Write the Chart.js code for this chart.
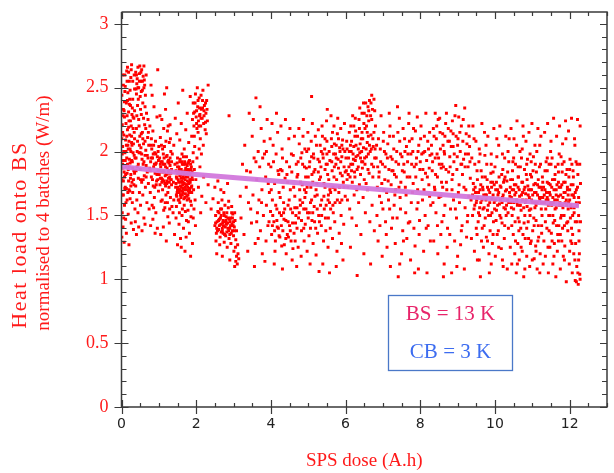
<!DOCTYPE html>
<html>
<head>
<meta charset="utf-8">
<script src="https://cdn.jsdelivr.net/npm/chart.js@4.4.1/dist/chart.umd.min.js"></script>
<style>
  html, body { margin: 0; padding: 0; background: #ffffff; }
  #wrap { width: 614px; height: 473px; }
</style>
</head>
<body>
<div id="wrap"><canvas id="chart" width="614" height="473"></canvas></div>
<script>
// Heat load measurements (W/m, normalised to 4 batches) against accumulated SPS dose (A.h),
// stored as flat [dose, load, dose, load, ...] lists, one list per dose period.
const fill0 = [
  0.01,1.33, 0.02,1.52, 0.01,1.78, 0.03,2.04, 0.02,2.21, 0.01,2.44, 0.03,2.6, 0.04,1.41, 0.05,1.66, 0.04,1.93,
  0.06,2.13, 0.05,2.33, 0.07,1.29, 0.08,1.58, 0.07,1.84, 0.09,1.99, 0.08,2.27, 0.1,2.51, 0.11,1.47, 0.1,1.72,
  0.12,1.88, 0.11,2.09, 0.13,2.38, 0.14,2.63, 0.13,1.36, 0.15,1.62, 0.14,1.95, 0.16,2.17, 0.17,2.46, 0.16,2.66,
  0.18,1.51, 0.19,1.77, 0.18,2.02, 0.2,2.24, 0.21,2.55, 0.2,1.27, 0.22,1.69, 0.23,1.91, 0.22,2.13, 0.24,2.36,
  0.25,2.58, 0.26,1.44, 0.25,1.82, 0.27,2.07, 0.28,2.29, 0.27,2.68, 0.29,1.6, 0.3,1.87, 0.31,2.18, 0.3,2.41,
  0.32,1.39, 0.33,1.74, 0.34,1.97, 0.33,2.26, 0.35,2.49, 0.36,1.55, 0.35,2.1, 0.02,1.66, 0.04,1.87, 0.06,2.0,
  0.09,1.71, 0.12,2.22, 0.15,1.83, 0.17,2.05, 0.19,2.31, 0.21,1.94, 0.23,1.63, 0.26,2.2, 0.28,1.76, 0.31,1.99,
  0.34,2.15, 0.06,1.48, 0.1,1.93, 0.14,2.12, 0.18,1.86, 0.22,2.41, 0.27,1.93, 0.32,2.06, 0.08,2.39, 0.13,1.71,
  0.2,2.08, 0.24,1.79, 0.29,2.34, 0.35,1.83, 0.03,1.9, 0.16,1.9, 0.25,2.0, 0.3,1.68, 0.12,2.0, 0.2,1.7,
  0.38,2.62, 0.4,2.45, 0.42,2.57, 0.44,2.66, 0.46,2.5, 0.48,2.61, 0.5,2.43, 0.52,2.55, 0.54,2.64, 0.56,2.48,
  0.58,2.59, 0.6,2.67, 0.62,2.52, 0.64,2.44, 0.66,2.6, 0.41,2.53, 0.45,2.41, 0.49,2.67, 0.53,2.47, 0.57,2.38,
  0.61,2.56, 0.43,2.36, 0.51,2.33, 0.63,2.35, 0.39,2.49,
  0.37,1.45, 0.38,1.73, 0.39,1.95, 0.4,2.18, 0.41,1.62, 0.42,1.88, 0.43,2.08, 0.44,1.52, 0.45,1.79, 0.46,2.25,
  0.47,1.99, 0.48,1.68, 0.49,2.12, 0.5,1.86, 0.51,1.58, 0.52,2.03, 0.53,2.29, 0.54,1.76, 0.55,1.94, 0.56,2.15,
  0.57,1.66, 0.58,1.9, 0.59,2.06, 0.6,1.48, 0.61,1.81, 0.62,2.21, 0.63,1.97, 0.64,1.72, 0.65,2.01, 0.66,1.89,
  0.67,2.3, 0.68,1.6, 0.69,1.84, 0.7,2.11, 0.71,1.95, 0.72,1.75, 0.73,2.05, 0.74,1.55, 0.75,1.87, 0.4,1.35,
  0.46,1.41, 0.55,1.38, 0.63,1.43, 0.5,1.99, 0.58,1.78,
  0.76,2.2, 0.77,1.68, 0.78,1.92, 0.79,2.52, 0.8,1.8, 0.81,2.02, 0.82,1.58, 0.83,1.95, 0.84,2.16, 0.85,1.73,
  0.86,1.88, 0.87,2.35, 0.88,1.64, 0.89,1.99, 0.9,1.83, 0.91,2.08, 0.92,1.52, 0.93,1.91, 0.94,1.77, 0.95,2.27,
  0.96,1.96, 0.97,2.64, 0.98,1.85, 0.99,1.69, 1.0,2.04, 0.78,1.42, 0.84,1.47, 0.9,1.36, 0.96,1.4, 0.82,2.44,
  0.88,1.9, 0.93,1.74, 0.8,2.1, 0.86,1.56, 0.99,1.93,
  0.02,1.98, 0.03,2.15, 0.05,1.77, 0.07,2.32, 0.09,2.47, 0.11,1.82, 0.13,2.05, 0.15,2.28, 0.17,1.68, 0.19,2.19,
  0.21,2.37, 0.23,2.02, 0.25,1.73, 0.27,2.12, 0.29,1.92, 0.31,2.27, 0.33,1.85, 0.35,2.32, 0.01,2.1, 0.04,2.28,
  0.08,1.8, 0.12,1.6, 0.16,2.4, 0.2,1.88, 0.24,2.24, 0.28,2.05, 0.32,1.78, 0.36,1.95, 0.05,2.52, 0.09,2.6,
  0.15,2.55, 0.19,2.62, 0.23,2.48, 0.26,2.64, 0.3,2.55, 0.34,2.6, 0.4,2.6, 0.44,2.5, 0.48,2.55, 0.52,2.62,
  0.56,2.55, 0.6,2.5, 0.39,1.85, 0.42,2.0, 0.45,1.9, 0.48,2.05, 0.51,1.78, 0.54,1.98, 0.57,2.1, 0.6,1.92,
  0.63,2.08, 0.66,1.8, 0.69,1.97, 0.72,2.15, 0.41,2.28, 0.47,2.2, 0.53,2.14, 0.59,2.26, 0.65,2.18, 0.71,2.25,
  0.77,1.85, 0.8,1.95, 0.83,1.78, 0.86,2.05, 0.89,1.72, 0.92,1.98, 0.95,1.82, 0.98,2.0, 0.79,2.05, 0.85,1.98,
  0.91,1.9, 0.97,1.78
];
const fill1 = [
  1.01,1.82, 1.02,1.95, 1.03,1.74, 1.04,2.11, 1.05,1.88, 1.06,1.61, 1.07,1.79, 1.08,2.25, 1.09,1.92, 1.1,1.7,
  1.11,1.85, 1.12,1.98, 1.13,1.54, 1.14,1.77, 1.15,2.04, 1.16,1.9, 1.17,1.81, 1.18,2.33, 1.19,1.66, 1.2,1.96,
  1.21,1.75, 1.22,1.87, 1.23,2.16, 1.24,1.49, 1.25,1.83, 1.26,1.93, 1.27,1.72, 1.28,2.07, 1.29,1.8, 1.3,1.89,
  1.31,1.64, 1.32,2.0, 1.33,1.78, 1.34,1.86, 1.35,1.57, 1.05,1.35, 1.12,1.41, 1.2,1.3, 1.28,1.44, 1.15,2.45,
  1.08,1.76, 1.14,1.84, 1.22,1.97, 1.26,1.79, 1.32,1.83, 1.04,1.9, 1.18,1.73, 1.1,2.02, 1.3,2.21, 1.24,1.68,
  1.03,2.28, 1.16,1.56, 1.27,1.91, 1.34,1.74, 1.21,2.5,
  1.45,1.72, 1.46,1.85, 1.47,1.66, 1.48,1.79, 1.49,1.91, 1.5,1.7, 1.51,1.83, 1.52,1.62, 1.53,1.76, 1.54,1.88,
  1.55,1.68, 1.56,1.81, 1.57,1.94, 1.58,1.73, 1.59,1.64, 1.6,1.86, 1.61,1.77, 1.62,1.69, 1.63,1.9, 1.64,1.8,
  1.65,1.71, 1.66,1.84, 1.67,1.63, 1.68,1.75, 1.69,1.92, 1.7,1.78, 1.71,1.67, 1.72,1.87, 1.73,1.74, 1.74,1.82,
  1.75,1.65, 1.76,1.89, 1.77,1.72, 1.78,1.8, 1.79,1.69, 1.8,1.85, 1.81,1.76, 1.82,1.93, 1.83,1.7, 1.84,1.83,
  1.85,1.61, 1.86,1.78, 1.87,1.88, 1.88,1.73, 1.89,1.8, 1.5,1.95, 1.56,1.6, 1.62,1.98, 1.68,1.58, 1.74,1.96,
  1.8,1.63, 1.86,1.68, 1.58,1.82, 1.64,1.74, 1.7,1.85, 1.76,1.77, 1.82,1.71, 1.53,1.84, 1.66,1.79, 1.78,1.91,
  1.38,1.52, 1.4,2.05, 1.42,1.35, 1.44,2.26, 1.46,1.48, 1.48,2.14, 1.5,1.27, 1.52,2.38, 1.54,1.43, 1.56,2.09,
  1.58,1.32, 1.6,2.22, 1.62,1.5, 1.64,2.48, 1.66,1.4, 1.68,2.02, 1.7,1.22, 1.72,2.17, 1.74,1.46, 1.76,2.3,
  1.78,1.54, 1.8,2.07, 1.82,1.36, 1.84,2.43, 1.86,1.49, 1.88,2.12, 1.9,1.28, 1.92,1.99, 1.94,1.55, 1.96,2.04,
  1.98,1.42, 1.4,1.62, 1.43,1.9, 1.47,1.57, 1.55,1.52, 1.63,1.55, 1.71,1.53, 1.79,1.45, 1.87,1.58, 1.93,1.7,
  1.95,1.86, 1.97,1.62, 1.99,1.78, 1.91,1.92, 1.6,1.25, 1.85,1.18, 1.73,1.33, 1.36,1.98, 1.39,1.76, 1.92,1.48,
  1.9,2.25, 1.92,2.38, 1.94,2.2, 1.96,2.31, 1.98,2.45, 2.0,2.27, 2.02,2.18, 2.04,2.35, 2.06,2.24, 2.08,2.42,
  2.1,2.29, 2.12,2.2, 2.14,2.33, 2.16,2.26, 2.18,2.48, 2.2,2.22, 2.22,2.36, 2.24,2.17, 2.26,2.3, 2.28,2.4,
  2.3,2.24, 2.32,2.52, 1.95,2.12, 2.01,2.32, 2.05,2.15, 2.09,2.28, 2.13,2.44, 2.17,2.34, 2.21,2.28, 2.25,2.23,
  2.29,2.33, 2.03,2.5, 2.11,2.1, 2.19,2.05, 2.27,2.14,
  2.02,1.95, 2.06,1.72, 2.1,1.88, 2.15,1.65, 2.2,1.8, 2.26,1.6, 2.32,1.74, 2.12,1.52, 2.08,2.02, 2.14,1.98,
  1.02,1.85, 1.04,1.79, 1.06,1.92, 1.08,1.84, 1.1,1.78, 1.12,1.9, 1.14,1.95, 1.16,1.75, 1.18,1.88, 1.2,1.82,
  1.22,1.77, 1.24,1.92, 1.26,1.85, 1.28,1.76, 1.3,1.95, 1.32,1.78, 1.34,1.92, 1.07,2.05, 1.13,2.18, 1.19,2.08,
  1.25,2.2, 1.31,2.1, 1.09,1.62, 1.17,1.6, 1.23,1.6, 1.29,1.55,
  1.46,1.75, 1.48,1.65, 1.5,1.88, 1.52,1.78, 1.54,1.7, 1.56,1.92, 1.58,1.66, 1.6,1.79, 1.62,1.84, 1.64,1.68,
  1.66,1.9, 1.68,1.82, 1.7,1.72, 1.72,1.8, 1.74,1.7, 1.76,1.84, 1.78,1.66, 1.8,1.75, 1.82,1.82, 1.84,1.76,
  1.86,1.86, 1.88,1.68, 1.9,1.78, 1.47,1.8, 1.51,1.72, 1.55,1.86, 1.59,1.76, 1.63,1.66, 1.67,1.82, 1.71,1.9,
  1.75,1.74, 1.79,1.86, 1.83,1.78, 1.87,1.72, 1.49,1.68, 1.57,1.7, 1.61,1.92, 1.65,1.76, 1.69,1.7, 1.73,1.86,
  1.77,1.82, 1.81,1.68, 1.85,1.9, 1.89,1.84, 1.6,1.72, 1.7,1.64, 1.8,1.92, 1.66,1.96, 1.76,1.62, 1.54,1.62,
  1.93,2.3, 1.97,2.38, 2.01,2.22, 2.05,2.4, 2.09,2.34, 2.13,2.26, 2.17,2.4, 2.21,2.32, 2.25,2.38, 2.07,2.2
];
const fill2 = [
  2.5,1.42, 2.52,1.5, 2.54,1.36, 2.56,1.45, 2.58,1.53, 2.6,1.39, 2.62,1.47, 2.64,1.33, 2.66,1.43, 2.68,1.55,
  2.7,1.38, 2.72,1.46, 2.74,1.52, 2.76,1.35, 2.78,1.41, 2.8,1.49, 2.82,1.37, 2.84,1.44, 2.86,1.56, 2.88,1.32,
  2.9,1.4, 2.92,1.48, 2.94,1.36, 2.96,1.43, 2.98,1.51, 3.0,1.34, 3.02,1.41, 3.04,1.46, 3.06,1.31, 3.08,1.38,
  2.55,1.4, 2.61,1.52, 2.67,1.37, 2.73,1.42, 2.79,1.34, 2.85,1.4, 2.91,1.45, 2.97,1.38, 3.03,1.52, 2.59,1.6,
  2.69,1.62, 2.77,1.58, 2.87,1.61, 2.95,1.57, 2.53,1.3, 2.63,1.27, 2.75,1.29, 2.83,1.25, 2.93,1.28, 3.01,1.22,
  2.71,1.44, 2.81,1.43, 2.65,1.48, 2.89,1.47, 2.99,1.42,
  3.05,1.25, 3.08,1.18, 3.1,1.12, 3.12,1.2, 3.06,1.14, 3.14,1.16, 3.03,1.1, 3.11,1.27,
  2.45,1.63, 2.5,1.72, 2.58,1.77, 2.66,1.7, 2.74,1.68, 2.84,1.75, 2.88,2.28, 2.55,1.2, 2.7,1.18, 2.9,1.15,
  2.4,1.55, 3.18,1.65,
  3.2,1.48, 3.24,1.9, 3.28,1.35, 3.3,2.05, 3.34,1.72, 3.38,1.22, 3.4,1.6, 3.42,2.3, 3.45,1.84, 3.48,1.44,
  3.5,2.12, 3.52,1.66, 3.55,1.95, 3.58,1.28, 3.6,2.42, 3.62,1.78, 3.64,1.52, 3.66,2.0, 3.68,1.62, 3.7,1.88,
  3.72,1.38, 3.74,2.18, 3.76,1.7, 3.78,1.95, 3.8,1.5, 3.82,2.08, 3.84,1.14, 3.86,1.8, 3.88,1.58, 3.9,2.25,
  3.92,1.42, 3.94,1.9, 3.96,1.68, 3.98,2.1, 3.56,1.1, 3.66,1.32, 3.77,1.2, 3.87,1.3, 3.53,2.25, 3.71,2.35,
  3.83,1.98, 3.93,1.75, 3.46,1.55, 3.62,1.45, 3.99,1.53,
  2.52,1.44, 2.57,1.38, 2.62,1.42, 2.67,1.5, 2.72,1.36, 2.77,1.45, 2.82,1.52, 2.87,1.38, 2.92,1.42, 2.97,1.48,
  3.02,1.38, 2.6,1.46, 2.7,1.4, 2.8,1.46, 2.9,1.35, 3.0,1.45, 2.65,1.55, 2.75,1.5, 2.85,1.48, 2.95,1.52,
  3.35,1.85, 3.6,1.92, 3.75,1.6, 3.88,2.0, 3.95,1.45
];
const fill3 = [
  4.0,1.88, 4.02,1.35, 4.04,1.62, 4.06,2.05, 4.08,1.45, 4.1,1.75, 4.12,1.3, 4.14,1.98, 4.16,1.55, 4.18,2.15,
  4.2,1.4, 4.22,1.68, 4.24,1.33, 4.26,1.86, 4.28,1.5, 4.3,2.02, 4.32,1.38, 4.34,1.6, 4.36,1.27, 4.38,1.79,
  4.4,1.46, 4.42,1.92, 4.44,1.35, 4.46,1.58, 4.48,2.1, 4.5,1.42, 4.52,1.7, 4.54,1.3, 4.56,1.84, 4.58,1.52,
  4.6,1.97, 4.62,1.36, 4.64,1.65, 4.66,1.44, 4.68,1.9, 4.7,1.56, 4.05,1.5, 4.11,1.22, 4.17,1.41, 4.23,1.52,
  4.29,1.26, 4.35,1.47, 4.41,1.2, 4.47,1.33, 4.53,1.55, 4.59,1.24, 4.65,1.3, 4.03,2.22, 4.15,2.3, 4.27,2.2,
  4.39,2.25, 4.51,2.18, 4.63,2.12, 4.09,1.12, 4.31,1.08, 4.57,1.15, 4.69,1.1, 4.21,1.82, 4.45,1.76, 4.33,1.72,
  4.72,1.82, 4.74,1.48, 4.76,2.06, 4.78,1.62, 4.8,1.95, 4.82,1.38, 4.84,1.74, 4.86,2.12, 4.88,1.55, 4.9,1.88,
  4.92,1.43, 4.94,1.68, 4.96,2.0, 4.98,1.52, 5.0,1.8, 5.02,1.34, 5.04,1.92, 5.06,1.6, 5.08,2.08, 5.09,2.43,
  5.1,1.46, 5.12,1.76, 5.14,1.98, 5.16,1.57, 5.18,1.86, 5.2,1.4, 5.22,2.05, 5.24,1.66, 5.26,1.94, 5.28,1.5,
  5.3,1.78, 4.73,1.25, 4.81,1.18, 4.89,1.3, 4.97,1.22, 5.05,1.12, 5.13,1.28, 5.21,1.19, 5.29,1.06, 4.77,1.7,
  4.85,1.9, 4.93,1.8, 5.01,2.02, 5.07,1.72, 5.15,1.84, 5.23,1.75, 4.75,2.18, 4.87,2.25, 4.99,2.15, 5.11,2.22,
  5.19,2.12, 5.27,2.17, 4.79,1.58, 4.91,1.64, 5.03,1.52, 5.17,1.45, 5.25,1.36, 4.83,1.99, 4.95,1.87, 5.09,1.96,
  5.32,2.05, 5.34,1.88, 5.36,1.62, 5.38,2.12, 5.4,1.95, 5.42,1.75, 5.44,2.02, 5.46,1.48, 5.48,1.9, 5.5,2.08,
  5.51,2.33, 5.52,1.82, 5.54,1.66, 5.56,2.0, 5.58,1.93, 5.6,1.55, 5.62,2.1, 5.64,1.85, 5.66,1.72, 5.68,1.98,
  5.7,2.06, 5.72,1.6, 5.74,1.9, 5.76,1.78, 5.78,2.14, 5.8,1.94, 5.82,1.68, 5.84,2.03, 5.86,1.83, 5.88,1.5,
  5.9,1.96, 5.92,2.09, 5.94,1.76, 5.96,1.88, 5.98,2.0, 5.35,1.42, 5.41,1.3, 5.47,1.38, 5.53,1.25, 5.59,1.4,
  5.65,1.32, 5.71,1.45, 5.77,1.22, 5.83,1.36, 5.89,1.28, 5.95,1.43, 5.39,1.12, 5.57,1.05, 5.75,1.1, 5.93,1.15,
  5.33,1.8, 5.45,1.86, 5.55,1.78, 5.63,1.92, 5.73,1.98, 5.81,1.87, 5.91,1.81, 5.37,2.2, 5.49,2.24, 5.61,2.28,
  5.69,2.2, 5.79,2.26, 5.87,2.18, 5.97,2.22, 5.43,1.55, 5.53,1.62, 5.67,1.52, 5.85,1.6, 5.99,1.65, 5.58,1.7,
  4.01,1.7, 4.07,1.92, 4.13,1.58, 4.19,1.85, 4.25,1.64, 4.31,1.95, 4.37,1.55, 4.43,1.82, 4.49,1.62, 4.55,1.98,
  4.61,1.72, 4.67,1.5, 4.73,1.92, 4.79,1.76, 4.85,1.6, 4.91,2.02, 4.97,1.72, 5.03,1.88, 5.09,1.62, 5.15,1.95,
  5.21,1.7, 5.27,1.84, 5.33,1.58, 5.39,1.98, 5.45,1.72, 5.51,1.9, 5.57,1.6, 5.63,2.04, 5.69,1.8, 5.75,1.95,
  5.81,2.1, 5.87,1.92, 5.93,2.02, 5.99,1.84, 4.04,1.42, 4.1,1.38, 4.16,1.46, 4.22,1.34, 4.28,1.42, 4.34,1.52,
  4.4,1.32, 4.46,1.45, 4.52,1.38, 4.58,1.44, 4.64,1.56, 4.7,1.4, 4.76,1.52, 4.82,1.46, 4.88,1.4, 4.94,1.55,
  5.0,1.48, 5.06,1.4, 5.12,1.52, 5.18,1.65, 5.24,1.55, 5.3,1.45, 5.36,1.5, 5.42,1.65, 5.48,1.58, 5.54,1.48,
  5.6,1.68, 5.66,1.58, 5.72,1.7, 5.78,1.62, 5.84,1.72, 5.9,1.62, 5.96,1.72, 4.3,1.85, 4.5,1.88, 4.7,1.8,
  4.9,1.7, 5.1,1.82, 5.3,1.92, 5.5,1.98, 5.7,1.88, 5.9,2.05, 5.35,2.0, 5.65,2.15, 5.85,2.0, 5.45,2.1, 5.75,2.05
];
const fill4 = [
  6.02,1.85, 6.04,2.02, 6.06,1.72, 6.08,1.95, 6.1,2.15, 6.12,1.8, 6.14,1.9, 6.16,2.08, 6.18,1.76, 6.2,1.98,
  6.22,2.2, 6.24,1.84, 6.26,1.93, 6.28,2.05, 6.3,1.7, 6.32,2.12, 6.34,1.88, 6.36,2.25, 6.38,1.99, 6.4,1.82,
  6.42,2.1, 6.44,2.3, 6.46,1.92, 6.48,2.03, 6.5,1.78, 6.52,2.18, 6.54,2.38, 6.56,1.96, 6.58,2.07, 6.6,1.86,
  6.62,2.24, 6.64,2.4, 6.66,2.0, 6.68,2.13, 6.7,1.9, 6.72,2.33, 6.74,2.04, 6.76,2.41, 6.78,1.95, 6.8,2.2,
  6.05,1.62, 6.11,1.55, 6.17,1.48, 6.23,1.66, 6.29,1.42, 6.35,1.6, 6.41,1.35, 6.47,1.64, 6.53,1.52, 6.59,1.7,
  6.65,1.45, 6.71,1.58, 6.77,1.38, 6.03,2.08, 6.09,1.88, 6.15,2.0, 6.21,1.94, 6.27,2.16, 6.33,1.97, 6.39,2.06,
  6.45,1.87, 6.51,1.95, 6.57,2.28, 6.63,1.83, 6.69,2.02, 6.75,1.88, 6.13,1.25, 6.31,1.03, 6.49,1.2, 6.67,1.12,
  6.6,2.35, 6.7,2.44, 6.5,2.3, 6.19,2.28, 6.25,1.8, 6.37,1.74, 6.43,2.0, 6.55,1.75, 6.61,1.98, 6.73,1.8,
  6.82,1.95, 6.85,1.72, 6.88,2.1, 6.9,1.84, 6.93,2.02, 6.96,1.6, 6.99,1.9, 7.02,2.15, 7.05,1.78, 7.08,1.98,
  7.1,1.68, 7.13,2.06, 7.16,1.86, 7.19,2.2, 7.22,1.74, 7.25,1.94, 7.28,2.12, 7.31,1.82, 7.34,1.7, 7.37,2.0,
  7.39,2.35, 7.42,1.9, 7.45,2.08, 7.48,1.76, 7.51,1.96, 7.54,2.18, 7.57,1.84, 7.6,1.72, 7.63,2.04, 7.66,1.92,
  7.69,2.22, 7.72,1.8, 7.75,1.98, 7.78,2.1, 7.81,1.75, 7.84,1.88, 7.87,2.16, 7.9,1.95, 7.93,1.7, 7.96,2.05,
  7.99,1.86, 8.02,2.2, 8.05,1.78, 8.08,1.99, 8.11,2.12, 8.14,1.83, 8.17,1.93, 8.2,2.08, 8.23,1.74, 8.26,1.97,
  6.84,1.5, 6.92,1.42, 7.0,1.55, 7.07,1.45, 7.15,1.62, 7.23,1.4, 7.3,1.58, 7.38,1.48, 7.46,1.64, 7.53,1.38,
  7.61,1.52, 7.68,1.44, 7.76,1.6, 7.83,1.4, 7.91,1.55, 7.98,1.46, 8.06,1.62, 8.13,1.5, 8.21,1.42, 8.28,1.58,
  6.87,1.3, 6.98,1.18, 7.11,1.25, 7.2,1.1, 7.33,1.28, 7.41,1.02, 7.5,1.2, 7.64,1.32, 7.74,1.15, 7.86,1.26,
  7.95,1.08, 8.09,1.22, 8.18,1.05, 8.27,1.3, 6.95,2.28, 7.17,2.3, 7.44,2.26, 7.7,2.3, 7.92,2.27, 8.15,2.3,
  6.86,1.88, 7.04,2.0, 7.27,1.85, 7.56,1.9, 7.8,2.0, 8.0,1.92, 8.24,1.87, 7.14,1.77, 7.35,1.92, 7.59,2.0,
  8.3,2.05, 8.32,1.85, 8.35,2.18, 8.38,1.72, 8.4,1.95, 8.43,2.1, 8.46,1.8, 8.48,2.25, 8.51,1.9, 8.54,2.02,
  8.57,1.76, 8.6,2.14, 8.62,1.88, 8.65,1.98, 8.68,2.22, 8.71,1.7, 8.74,2.08, 8.76,1.84, 8.79,1.96, 8.82,2.16,
  8.85,1.78, 8.88,2.04, 8.9,1.92, 8.93,2.28, 8.95,2.36, 8.98,1.86, 9.01,2.1, 9.04,1.74, 9.07,2.0, 9.1,2.2,
  9.13,1.82, 9.16,1.94, 9.19,2.34, 9.22,1.7, 9.25,2.06, 9.28,1.88, 9.31,2.12, 9.34,1.79, 8.34,1.6, 8.42,1.52,
  8.5,1.64, 8.58,1.45, 8.66,1.58, 8.73,1.4, 8.81,1.55, 8.89,1.62, 8.97,1.48, 9.05,1.6, 9.12,1.42, 9.2,1.56,
  9.27,1.5, 8.36,1.3, 8.47,1.2, 8.55,1.35, 8.64,1.12, 8.72,1.25, 8.84,1.05, 8.92,1.3, 9.0,1.18, 9.08,1.27,
  9.18,1.08, 9.24,1.33, 8.4,2.3, 8.52,2.26, 8.7,2.3, 8.86,2.24, 9.03,2.27, 9.15,2.25, 9.3,2.2, 8.33,1.92,
  8.45,1.98, 8.56,1.87, 8.64,2.0, 8.78,2.08, 8.87,1.82, 8.99,1.96, 9.09,1.9, 9.21,1.98, 9.33,1.92, 8.6,1.72,
  6.01,1.95, 6.07,1.82, 6.13,2.05, 6.19,1.9, 6.25,2.12, 6.31,1.86, 6.37,2.18, 6.43,1.92, 6.49,2.22, 6.55,2.02,
  6.61,2.12, 6.67,2.28, 6.73,2.1, 6.79,2.02, 6.04,1.78, 6.1,2.0, 6.16,1.85, 6.22,2.04, 6.28,1.96, 6.34,2.02,
  6.4,1.95, 6.46,2.1, 6.52,1.9, 6.58,2.15, 6.64,2.05, 6.7,2.25, 6.76,2.15, 6.14,2.2, 6.26,2.26, 6.38,2.34,
  6.48,2.38, 6.62,2.32, 6.68,2.38, 6.78,2.32, 6.56,2.2, 6.44,2.15,
  6.83,2.05, 6.89,1.8, 6.94,1.92, 7.01,2.08, 7.06,1.88, 7.12,1.95, 7.18,2.12, 7.24,1.85, 7.29,2.02, 7.36,1.8,
  7.4,2.15, 7.47,1.98, 7.52,1.85, 7.58,2.1, 7.65,1.8, 7.71,2.08, 7.77,1.9, 7.82,2.18, 7.88,1.8, 7.94,2.0,
  8.01,2.1, 8.07,1.86, 8.12,2.0, 8.19,1.8, 8.25,2.15, 6.91,1.65, 7.03,1.7, 7.18,1.55, 7.32,1.66, 7.47,1.55,
  7.62,1.66, 7.79,1.68, 7.94,1.6, 8.1,1.7, 8.25,1.65, 6.97,1.75, 7.21,1.96, 7.43,1.72, 7.67,1.98, 7.89,1.9,
  8.04,1.98, 8.22,2.02, 7.09,1.35, 7.26,1.48, 7.55,1.3, 7.72,1.45, 7.97,1.35, 8.16,1.4, 7.45,1.12, 7.85,1.05,
  8.31,1.98, 8.37,2.12, 8.41,1.82, 8.44,2.2, 8.49,1.95, 8.53,2.15, 8.58,1.9, 8.61,2.05, 8.66,2.12, 8.69,1.86,
  8.75,2.18, 8.8,1.88, 8.83,2.04, 8.88,2.14, 8.91,1.98, 8.96,2.12, 9.0,2.05, 9.06,2.15, 9.11,1.9, 9.14,2.08,
  9.2,1.88, 9.23,2.14, 9.29,1.98, 9.32,2.04, 8.39,1.7, 8.55,1.65, 8.7,1.76, 8.85,1.7, 9.02,1.68, 9.17,1.72,
  9.3,1.65, 8.46,1.42, 8.63,1.5, 8.79,1.35, 8.94,1.55, 9.1,1.38, 9.26,1.45, 8.62,1.02, 8.98,1.1
];
const fill5 = [
  9.36,1.62, 9.38,1.95, 9.4,1.5, 9.42,1.75, 9.44,2.1, 9.46,1.58, 9.48,1.68, 9.5,1.4, 9.52,1.85, 9.54,1.64,
  9.56,1.52, 9.58,2.02, 9.6,1.7, 9.62,1.6, 9.64,1.3, 9.66,1.8, 9.68,1.55, 9.7,1.66, 9.72,2.15, 9.74,1.48,
  9.76,1.62, 9.78,1.9, 9.8,1.72, 9.82,1.58, 9.84,1.2, 9.86,1.68, 9.88,1.5, 9.9,1.98, 9.92,1.63, 9.94,1.76,
  9.96,1.45, 9.98,1.6, 10.0,1.88, 10.02,1.7, 10.04,1.54, 10.06,1.35, 10.08,1.66, 10.1,2.05, 10.12,1.59,
  10.14,1.73, 10.16,1.48, 10.18,1.82, 10.2,1.64, 10.22,1.1, 10.24,1.56, 10.26,1.95, 10.28,1.69, 10.3,1.5,
  10.32,1.77, 10.34,1.62, 10.36,1.4, 10.38,2.1, 9.37,1.32, 9.45,1.22, 9.53,1.15, 9.61,1.02, 9.69,1.25,
  9.77,1.33, 9.85,1.05, 9.93,1.28, 10.01,1.18, 10.09,1.38, 10.17,1.24, 10.25,1.32, 10.33,1.08, 9.41,2.2,
  9.49,2.08, 9.57,1.92, 9.65,2.22, 9.73,1.97, 9.81,2.12, 9.89,1.83, 9.97,2.18, 10.05,1.96, 10.13,2.2,
  10.21,1.86, 10.29,2.12, 10.37,1.92, 9.43,1.7, 9.51,1.62, 9.59,1.56, 9.67,1.72, 9.75,1.66, 9.83,1.5,
  9.91,1.72, 9.99,1.55, 10.07,1.7, 10.15,1.62, 10.23,1.76, 10.31,1.58, 10.39,1.68, 9.55,1.45, 9.71,1.42,
  9.87,1.38, 10.03,1.46, 10.19,1.44, 10.35,1.52, 9.63,1.85, 9.79,1.78, 9.95,1.84, 10.11,1.8, 10.27,1.8,
  10.4,1.65, 10.42,1.78, 10.44,1.56, 10.46,1.7, 10.48,1.92, 10.5,1.6, 10.52,1.74, 10.54,1.45, 10.56,1.68,
  10.58,2.05, 10.6,1.58, 10.62,1.72, 10.64,1.38, 10.66,1.65, 10.68,1.88, 10.7,1.54, 10.72,1.76, 10.74,1.62,
  10.76,2.12, 10.78,1.7, 10.8,1.5, 10.82,1.67, 10.84,1.82, 10.86,1.57, 10.88,1.73, 10.9,1.32, 10.92,1.64,
  10.94,1.98, 10.96,1.55, 10.98,1.7, 11.0,1.6, 11.02,1.85, 11.04,1.48, 11.06,1.68, 11.08,1.75, 11.1,1.58,
  11.12,2.0, 11.14,1.66, 11.16,1.42, 11.18,1.72, 11.2,1.62, 11.22,1.9, 11.24,1.55, 11.26,1.7, 11.28,1.64,
  10.41,1.25, 10.45,1.12, 10.49,1.35, 10.53,1.2, 10.57,1.05, 10.61,1.28, 10.65,1.15, 10.69,1.4, 10.73,1.22,
  10.77,1.02, 10.81,1.32, 10.85,1.18, 10.89,1.45, 10.93,1.1, 10.97,1.3, 11.01,1.38, 11.05,1.16, 11.09,1.26,
  11.13,1.08, 11.17,1.33, 11.21,1.2, 11.25,1.42, 11.29,1.12, 10.43,2.18, 10.51,2.1, 10.59,2.24, 10.67,2.0,
  10.75,2.2, 10.83,2.08, 10.91,2.15, 10.99,2.22, 11.07,2.05, 11.15,2.18, 11.23,2.12, 10.47,1.85, 10.55,1.9,
  10.63,1.8, 10.71,1.95, 10.79,1.86, 10.87,1.94, 10.95,1.82, 11.03,1.96, 11.11,1.84, 11.19,1.88, 11.27,1.8,
  10.42,1.6, 10.5,1.7, 10.58,1.62, 10.66,1.58, 10.74,1.68, 10.82,1.6, 10.9,1.7, 10.98,1.62, 11.06,1.6,
  11.14,1.74, 11.22,1.64, 10.46,1.5, 10.62,1.48, 10.78,1.44, 10.94,1.5, 11.1,1.46, 11.26,1.5,
  11.3,1.72, 11.32,1.6, 11.34,1.85, 11.36,1.55, 11.38,1.68, 11.4,1.95, 11.42,1.62, 11.44,1.75, 11.46,1.5,
  11.48,1.66, 11.5,2.08, 11.52,1.58, 11.54,1.78, 11.56,1.44, 11.58,1.7, 11.6,1.62, 11.62,1.88, 11.64,1.56,
  11.66,1.74, 11.68,1.35, 11.7,1.65, 11.72,1.98, 11.74,1.6, 11.76,1.72, 11.78,1.5, 11.8,1.84, 11.82,1.64,
  11.84,1.76, 11.86,1.42, 11.88,1.68, 11.9,2.1, 11.92,1.58, 11.94,1.7, 11.96,1.55, 11.98,1.8, 12.0,1.62,
  12.02,1.48, 12.04,1.74, 12.06,1.9, 12.08,1.35, 12.1,1.66, 12.12,1.52, 12.14,2.05, 12.16,1.28, 12.18,1.7,
  12.2,1.45, 12.22,1.82, 12.24,1.15, 12.26,1.6, 12.28,2.2, 11.31,1.3, 11.35,1.18, 11.39,1.4, 11.43,1.05,
  11.47,1.25, 11.51,1.36, 11.55,1.12, 11.59,1.28, 11.63,1.02, 11.67,1.22, 11.71,1.42, 11.75,1.08, 11.79,1.3,
  11.83,1.18, 11.87,1.26, 11.91,0.98, 11.95,1.38, 11.99,1.12, 12.03,1.3, 12.07,1.05, 12.11,1.2, 12.15,0.99,
  12.19,1.1, 12.23,0.96, 12.27,1.04, 12.25,1.38, 11.33,2.15, 11.41,2.22, 11.49,2.0, 11.57,2.26, 11.65,2.12,
  11.73,2.2, 11.81,2.06, 11.89,2.24, 11.97,2.16, 12.05,2.26, 12.13,2.1, 12.21,2.25, 11.37,1.92, 11.45,1.9,
  11.53,1.95, 11.61,1.82, 11.69,1.9, 11.77,1.96, 11.85,1.92, 11.93,1.86, 12.01,1.94, 12.09,1.85, 12.17,1.92,
  11.32,1.66, 11.4,1.64, 11.48,1.74, 11.56,1.6, 11.64,1.66, 11.72,1.72, 11.8,1.58, 11.88,1.6, 11.96,1.66,
  12.04,1.56, 12.12,1.64, 12.2,1.58, 11.44,1.5, 11.6,1.46, 11.76,1.48, 11.92,1.44, 12.08,1.5, 12.24,1.5,
  9.4,1.66, 9.44,1.55, 9.47,1.72, 9.5,1.6, 9.53,1.78, 9.56,1.68, 9.59,1.5, 9.62,1.74, 9.65,1.62, 9.68,1.7,
  9.71,1.56, 9.74,1.8, 9.77,1.66, 9.8,1.54, 9.83,1.7, 9.86,1.6, 9.89,1.76, 9.92,1.52, 9.95,1.66, 9.98,1.74,
  10.01,1.62, 10.04,1.76, 10.07,1.58, 10.1,1.68, 10.13,1.5, 10.16,1.72, 10.19,1.6, 10.22,1.66, 10.25,1.78,
  10.28,1.55, 10.31,1.7, 10.34,1.84, 10.37,1.6, 9.46,1.9, 9.6,1.98, 9.76,2.05, 9.9,1.9, 10.05,2.1, 10.2,1.98,
  10.35,2.0, 9.52,1.35, 9.66,1.4, 9.8,1.3, 9.95,1.35, 10.1,1.25, 10.26,1.42, 9.58,1.15, 9.9,1.12, 10.2,1.15,
  10.41,1.72, 10.44,1.64, 10.47,1.78, 10.5,1.55, 10.53,1.66, 10.56,1.74, 10.59,1.6, 10.62,1.8, 10.65,1.7,
  10.68,1.58, 10.71,1.66, 10.74,1.76, 10.77,1.56, 10.8,1.72, 10.83,1.62, 10.86,1.78, 10.89,1.66, 10.92,1.54,
  10.95,1.7, 10.98,1.8, 11.01,1.66, 11.04,1.74, 11.07,1.56, 11.1,1.68, 11.13,1.6, 11.16,1.78, 11.19,1.64,
  11.22,1.72, 11.25,1.6, 11.28,1.76, 10.45,1.42, 10.55,1.3, 10.65,1.45, 10.75,1.35, 10.85,1.4, 10.95,1.28,
  11.05,1.42, 11.15,1.3, 11.25,1.36, 10.5,1.95, 10.62,1.88, 10.73,2.02, 10.85,1.9, 10.97,1.92, 11.08,1.9,
  11.2,2.05, 10.6,1.12, 10.8,1.08, 11.0,1.15, 11.2,1.05, 10.7,1.25, 11.1,1.22,
  11.31,1.6, 11.34,1.7, 11.37,1.62, 11.4,1.76, 11.43,1.58, 11.46,1.68, 11.49,1.6, 11.52,1.72, 11.55,1.64,
  11.58,1.78, 11.61,1.55, 11.64,1.7, 11.67,1.62, 11.7,1.76, 11.73,1.58, 11.76,1.66, 11.79,1.74, 11.82,1.56,
  11.85,1.68, 11.88,1.76, 11.91,1.62, 11.94,1.72, 11.97,1.6, 12.0,1.7, 12.03,1.58, 12.06,1.66, 12.09,1.74,
  12.12,1.56, 12.15,1.68, 12.18,1.6, 12.21,1.72, 12.24,1.64, 11.35,1.45, 11.45,1.38, 11.55,1.5, 11.65,1.42,
  11.75,1.35, 11.85,1.5, 11.95,1.45, 12.05,1.4, 12.15,1.45, 12.25,1.3, 11.4,1.85, 11.5,1.9, 11.6,1.78,
  11.7,1.84, 11.8,1.9, 11.9,1.82, 12.0,1.86, 12.1,1.8, 12.2,1.9, 11.42,1.25, 11.58,1.18, 11.7,1.3,
  11.86,1.15, 12.0,1.22, 12.14,1.15, 12.26,1.2, 12.28,1.0, 12.22,1.05, 12.18,0.98, 12.29,1.75, 12.29,1.45,
  12.27,1.9, 11.53,1.3, 11.81,1.4, 12.06,1.28
];

// Linear fit of heat load against dose
const trendDose = [0, 2, 12.25];
const trendLoad = [1.88, 1.82, 1.575];

// Axis ticks and labels
const doseTicks = [0, 2, 4, 6, 8, 10, 12];
const loadTicks = [0, 0.5, 1, 1.5, 2, 2.5, 3];
const yTitleLines = ['Heat load onto BS', 'normalised to 4 batches (W/m)'];
const xTitle = 'SPS dose (A.h)';
const boxLines = ['BS = 13 K', 'CB = 3 K'];

function toPoints(flat) {
  const pts = [];
  for (let i = 0; i + 1 < flat.length; i += 2) pts.push({ x: flat[i], y: flat[i + 1] });
  return pts;
}
const measured = [fill0, fill1, fill2, fill3, fill4, fill5].flatMap(toPoints);
const trend = trendDose.map((d, i) => ({ x: d, y: trendLoad[i] }));

const SERIF = '"Liberation Serif", "Times New Roman", serif';

// Frame with inner/outer tick marks, rotated y title and the temperature box
const framePlugin = {
  id: 'frame',
  afterDatasetsDraw(chart) {
    const ctx = chart.ctx;
    const xs = chart.scales.x, ys = chart.scales.y;
    const L = chart.chartArea.left, R = chart.chartArea.right, B = chart.chartArea.bottom;
    const T = 12;
    ctx.save();
    ctx.strokeStyle = '#3a3a3a';
    ctx.lineWidth = 1.5;
    ctx.beginPath();
    ctx.moveTo(L, T); ctx.lineTo(L, B); ctx.lineTo(R, B); ctx.lineTo(R, T); ctx.lineTo(L, T);
    ctx.stroke();
    ctx.lineWidth = 1.2;
    ctx.beginPath();
    for (let k = 0; k <= 30; k++) {
      const v = k / 10;
      const py = Math.round(ys.getPixelForValue(v)) + 0.5;
      if (k % 5 === 0) {
        ctx.moveTo(L - 7, py); ctx.lineTo(L + 7, py);
        ctx.moveTo(R - 7, py); ctx.lineTo(R, py);
      } else {
        ctx.moveTo(L, py); ctx.lineTo(L + 5, py);
        ctx.moveTo(R - 5, py); ctx.lineTo(R, py);
      }
    }
    for (let k = 0; k <= 26; k++) {
      const v = k / 2;
      const px = Math.round(xs.getPixelForValue(v)) + 0.5;
      if (k % 4 === 0) {
        ctx.moveTo(px, B - 7); ctx.lineTo(px, B + 7);
        ctx.moveTo(px, T); ctx.lineTo(px, T + 7);
      } else {
        ctx.moveTo(px, B - 4); ctx.lineTo(px, B);
        ctx.moveTo(px, T); ctx.lineTo(px, T + 4);
      }
    }
    ctx.stroke();

    // y-axis title, two rotated lines
    ctx.fillStyle = '#ff1a1a';
    ctx.textAlign = 'center';
    ctx.textBaseline = 'middle';
    ctx.save();
    ctx.font = '22px ' + SERIF;
    ctx.letterSpacing = '1.5px';
    ctx.translate(20, 235);
    ctx.rotate(-Math.PI / 2);
    ctx.fillText(yTitleLines[0], 0, 0);
    ctx.restore();
    ctx.save();
    ctx.font = '19px ' + SERIF;
    ctx.translate(44, 213);
    ctx.rotate(-Math.PI / 2);
    ctx.fillText(yTitleLines[1], 0, 0);
    ctx.restore();

    // temperature box
    const bx = 388.5, by = 295.5, bw = 124, bh = 75;
    ctx.fillStyle = '#ffffff';
    ctx.fillRect(bx, by, bw, bh);
    ctx.strokeStyle = '#4a78c8';
    ctx.lineWidth = 1.3;
    ctx.strokeRect(bx, by, bw, bh);
    ctx.font = '21px ' + SERIF;
    ctx.fillStyle = '#e8246a';
    ctx.fillText(boxLines[0], bx + bw / 2, by + 19);
    ctx.fillStyle = '#3c6cf0';
    ctx.fillText(boxLines[1], bx + bw / 2, by + 57);
    ctx.restore();
  }
};

new Chart(document.getElementById('chart'), {
  data: {
    datasets: [
      {
        type: 'line',
        label: 'fit',
        data: trend,
        borderColor: 'rgba(210, 120, 220, 0.95)',
        borderWidth: 5,
        pointRadius: 0,
        fill: false,
        tension: 0,
        order: 1
      },
      {
        type: 'scatter',
        label: 'heat load',
        data: measured,
        pointStyle: 'rect',
        pointRadius: 2.1,
        pointBorderWidth: 0,
        borderWidth: 0,
        backgroundColor: '#ff0000',
        pointBackgroundColor: '#ff0000',
        order: 2
      }
    ]
  },
  options: {
    responsive: false,
    animation: false,
    events: [],
    layout: { padding: { left: 0, right: 7, top: 19, bottom: 0 } },
    plugins: { legend: { display: false }, tooltip: { enabled: false } },
    scales: {
      x: {
        type: 'linear',
        min: 0,
        max: 13,
        afterFit(s) { s.height = 66; },
        afterBuildTicks(s) { s.ticks = doseTicks.map(v => ({ value: v })); },
        grid: { display: false, drawTicks: false },
        border: { display: false },
        ticks: {
          color: '#222222',
          font: { family: '"DejaVu Sans", sans-serif', size: 14 },
          padding: 9,
          maxRotation: 0,
          autoSkip: false,
          callback: v => String(v)
        },
        title: {
          display: true,
          text: xTitle,
          color: '#ff1a1a',
          font: { family: SERIF, size: 19 },
          padding: { top: 0, bottom: 1 }
        }
      },
      y: {
        type: 'linear',
        min: 0,
        max: 3,
        afterFit(s) { s.width = 121.5; },
        afterBuildTicks(s) { s.ticks = loadTicks.map(v => ({ value: v })); },
        grid: { display: false, drawTicks: false },
        border: { display: false },
        ticks: {
          color: '#ff1a1a',
          font: { family: SERIF, size: 18 },
          padding: 13,
          autoSkip: false,
          callback: v => String(v)
        }
      }
    }
  },
  plugins: [framePlugin]
});
</script>
</body>
</html>
